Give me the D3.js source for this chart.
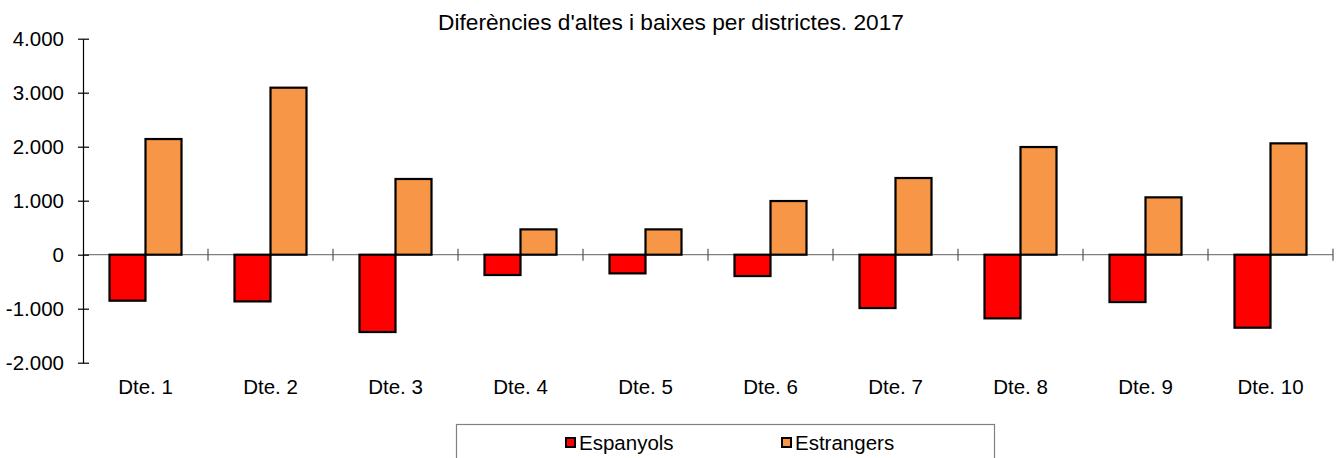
<!DOCTYPE html>
<html>
<head>
<meta charset="utf-8">
<script src="https://cdn.jsdelivr.net/npm/d3@7"></script>
<style>
	body { margin: 0; background: #fff; }
	text { font-family: "Liberation Sans", Arial, sans-serif; fill: #000; }
</style>
</head>
<body>
<svg width="1336" height="458"></svg>
<script>
var districts = ["Dte. 1", "Dte. 2", "Dte. 3", "Dte. 4", "Dte. 5", "Dte. 6", "Dte. 7", "Dte. 8", "Dte. 9", "Dte. 10"];
var seriesNames = ["Espanyols", "Estrangers"];
var espanyols = [-852, -865, -1432, -376, -346, -395, -988, -1179, -877, -1352];
var estrangers = [2142, 3093, 1402, 469, 469, 994, 1420, 1994, 1062, 2062];
var yTicks = [-2000, -1000, 0, 1000, 2000, 3000, 4000];
var colors = ["#ff0000", "#f79646"];

(function () {
	var svg = d3.select("svg");

	var data = districts.map(function (d, i) {
		return { district: d, values: [espanyols[i], estrangers[i]] };
	});

	var loc = d3.formatLocale({ decimal: ",", thousands: ".", grouping: [3], currency: ["", "€"], minus: "-" });
	var fmt = loc.format(",d");

	var xScale = d3.scaleBand()
		.domain(districts)
		.range([83, 1333]);

	var xSub = d3.scaleBand()
		.domain(seriesNames)
		.range([0, xScale.bandwidth()])
		.paddingInner(0)
		.paddingOuter(0.736);

	var yScale = d3.scaleLinear()
		.domain([-2000, 4000])
		.range([362.7, 38.7]);

	// title
	svg.append("text")
		.attr("x", 671)
		.attr("y", 30)
		.attr("text-anchor", "middle")
		.style("font-size", "22.7px")
		.text("Diferències d'altes i baixes per districtes. 2017");

	// zero line with category ticks
	var xAxis = svg.append("g")
		.attr("transform", "translate(0," + yScale(0) + ")");
	xAxis.append("line")
		.attr("x1", 83).attr("x2", 1333)
		.attr("stroke", "#808080").attr("stroke-width", 1.2);
	xAxis.selectAll(".ctick")
		.data(districts)
		.enter().append("line")
		.attr("x1", function (d) { return xScale(d) + xScale.bandwidth(); })
		.attr("x2", function (d) { return xScale(d) + xScale.bandwidth(); })
		.attr("y1", -6).attr("y2", 6)
		.attr("stroke", "#555").attr("stroke-width", 1.2);

	// bars
	var groups = svg.selectAll(".grp")
		.data(data)
		.enter().append("g")
		.attr("transform", function (d) { return "translate(" + xScale(d.district) + ",0)"; });

	groups.selectAll("rect")
		.data(function (d) { return d.values.map(function (v, j) { return { key: seriesNames[j], value: v, j: j }; }); })
		.enter().append("rect")
		.attr("x", function (d) { return xSub(d.key); })
		.attr("width", xSub.bandwidth())
		.attr("y", function (d) { return yScale(Math.max(0, d.value)); })
		.attr("height", function (d) { return Math.abs(yScale(d.value) - yScale(0)); })
		.attr("fill", function (d) { return colors[d.j]; })
		.attr("stroke", "#000")
		.attr("stroke-width", 2.2);

	// y axis
	var yAxis = svg.append("g")
		.attr("transform", "translate(83,0)")
		.call(d3.axisLeft(yScale).tickValues(yTicks).tickFormat(fmt).tickSize(5).tickSizeOuter(0).tickPadding(14));
	yAxis.select(".domain").attr("stroke", "#000").attr("stroke-width", 1.2);
	yAxis.selectAll(".tick line").attr("x1", 6).attr("x2", -5).attr("stroke", "#000").attr("stroke-width", 1.2);
	yAxis.selectAll(".tick text")
		.style("font-size", "20.5px")
		.style("font-family", "'Liberation Sans', Arial, sans-serif")
		.attr("fill", "#000");

	// category labels
	svg.selectAll(".clabel")
		.data(districts)
		.enter().append("text")
		.attr("x", function (d) { return xScale(d) + xScale.bandwidth() / 2; })
		.attr("y", 394)
		.attr("text-anchor", "middle")
		.style("font-size", "20.5px")
		.text(function (d) { return d; });

	// legend
	svg.append("rect")
		.attr("x", 456.5).attr("y", 424.5)
		.attr("width", 538).attr("height", 50)
		.attr("fill", "none")
		.attr("stroke", "#808080")
		.attr("stroke-width", 1.2);

	var legendX = [565, 781];
	var leg = svg.selectAll(".leg")
		.data(seriesNames)
		.enter().append("g")
		.attr("transform", function (d, i) { return "translate(" + legendX[i] + ",0)"; });
	leg.append("rect")
		.attr("x", 1).attr("y", 438)
		.attr("width", 9).attr("height", 9)
		.attr("fill", function (d, i) { return colors[i]; })
		.attr("stroke", "#000").attr("stroke-width", 2);
	leg.append("text")
		.attr("x", 14)
		.attr("y", 450)
		.style("font-size", "20.5px")
		.text(function (d) { return d; });
})();
</script>
</body>
</html>
